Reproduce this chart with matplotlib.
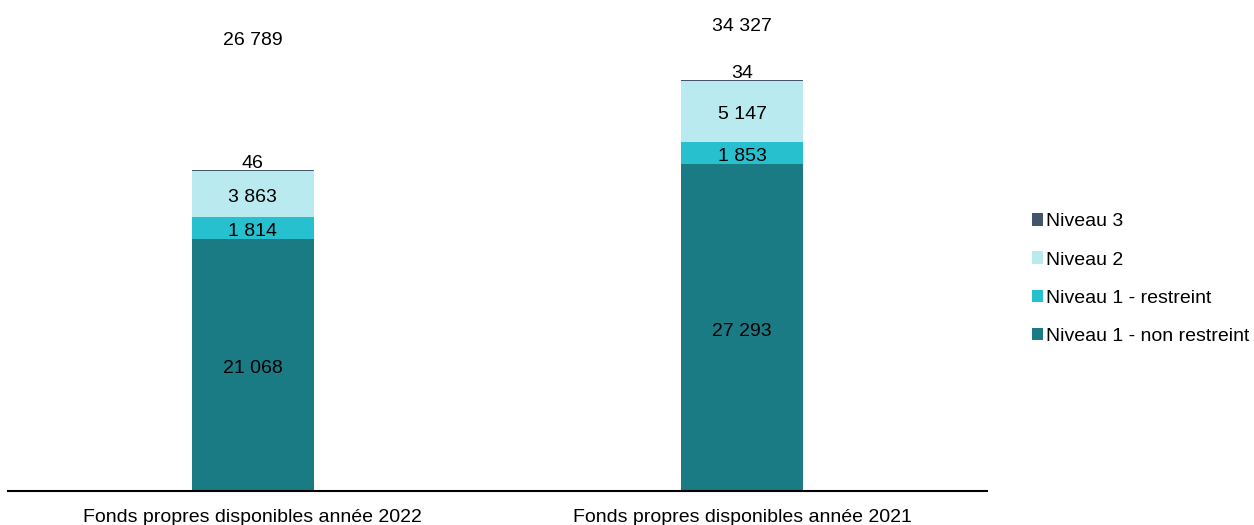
import matplotlib

matplotlib.use("Agg")

import matplotlib.pyplot as plt
from matplotlib.patches import Patch

plt.rcParams["font.family"] = ["Liberation Sans", "DejaVu Sans"]

categories = ["Fonds propres disponibles année 2022", "Fonds propres disponibles année 2021"]
tier1_unrestricted = [21068, 27293]
tier1_restricted = [1814, 1853]
tier2 = [3863, 5147]
tier3 = [46, 34]
totals = [26789, 34327]

series = [
    ("Niveau 1 - non restreint", tier1_unrestricted, "#1a7b85"),
    ("Niveau 1 - restreint", tier1_restricted, "#27c0cf"),
    ("Niveau 2", tier2, "#b9eaf0"),
    ("Niveau 3", tier3, "#44546a"),
]


def fmt(v):
    return f"{v:,}".replace(",", " ")


fig = plt.figure(figsize=(12.54, 5.25), dpi=100)
ax = fig.add_axes([8 / 1254, 34 / 525, 979 / 1254, 491 / 525])

x = list(range(len(categories)))
bottom = [0] * len(categories)
for name, vals, color in series:
    ax.bar(x, vals, width=0.25, bottom=bottom, color=color, label=name)
    for i, (b, v) in enumerate(zip(bottom, vals)):
        if name == "Niveau 3":
            ax.annotate(fmt(v), (x[i], b + v), xytext=(0, -1.5), textcoords="offset points",
                        ha="center", va="bottom", fontsize=14)
        else:
            ax.annotate(fmt(v), (x[i], b + v / 2), xytext=(0, -2.5), textcoords="offset points",
                        ha="center", va="center", fontsize=14)
    bottom = [b + v for b, v in zip(bottom, vals)]

# total labels sit near the top of the plot area
total_y = [0.917, 0.947]
for i, t in enumerate(totals):
    ax.text(x[i], total_y[i], fmt(t), transform=ax.get_xaxis_transform(),
            ha="center", va="center", fontsize=14)

ax.set_xlim(-0.5, 1.5)
ax.set_ylim(0, 41020)
ax.set_xticks(x)
ax.set_xticklabels(categories, fontsize=14)
ax.tick_params(axis="x", length=0, pad=13)
ax.set_yticks([])
for side in ["left", "right", "top"]:
    ax.spines[side].set_visible(False)
ax.spines["bottom"].set_linewidth(1.5)

handles = [Patch(facecolor=c, label=n) for n, _, c in reversed(series)]
fig.legend(handles=handles, loc="center left", bbox_to_anchor=(1024 / 1254, 1 - 279 / 525),
           frameon=False, fontsize=14, handlelength=0.6, handleheight=0.6,
           handletextpad=0.15, labelspacing=1.08, borderaxespad=0)

fig.savefig("out.png", dpi=100)
